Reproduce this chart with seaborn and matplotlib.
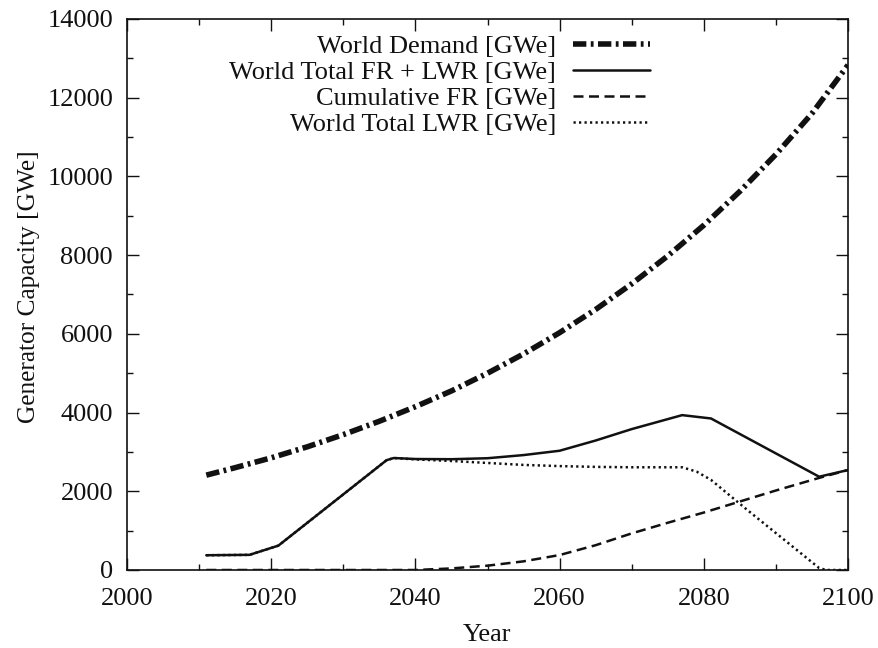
import matplotlib
matplotlib.use("Agg")
import matplotlib.pyplot as plt
import seaborn as sns
import pandas as pd
from matplotlib.ticker import MultipleLocator

# World demand for generating capacity [GWe]
demand_years = [2011, 2015, 2020, 2025, 2030, 2035, 2040, 2045, 2050, 2055,
                2060, 2065, 2070, 2075, 2080, 2085, 2090, 2095, 2100]
demand_gwe = [2410, 2600, 2850, 3130, 3440, 3780, 4150, 4550, 5000, 5490,
              6030, 6620, 7270, 7980, 8760, 9620, 10560, 11600, 12830]

# Installed fast reactor + light water reactor capacity [GWe]
total_years = [2011, 2017, 2021, 2036, 2037, 2040, 2045, 2050, 2055, 2060,
               2065, 2070, 2077, 2081, 2096, 2100]
total_gwe = [375, 385, 620, 2790, 2845, 2820, 2815, 2840, 2920, 3030,
             3290, 3580, 3935, 3850, 2370, 2540]

# Cumulative fast reactor capacity [GWe]
fr_years = [2011, 2040, 2045, 2050, 2055, 2060, 2065, 2070, 2075, 2080,
            2085, 2090, 2096, 2100]
fr_gwe = [0, 0, 40, 110, 220, 380, 630, 930, 1200, 1460, 1740, 2020, 2340, 2540]

# Light water reactor capacity [GWe]
lwr_years = [2011, 2017, 2021, 2036, 2037, 2040, 2045, 2050, 2055, 2060,
             2065, 2070, 2077, 2079, 2081, 2086, 2091, 2096, 2097, 2100]
lwr_gwe = [375, 385, 620, 2790, 2845, 2810, 2770, 2720, 2670, 2640,
           2620, 2610, 2610, 2500, 2290, 1530, 790, 50, 0, 0]

series_labels = ["World Demand [GWe]", "World Total FR + LWR [GWe]",
                 "Cumulative FR [GWe]", "World Total LWR [GWe]"]

sns.set_theme(style="ticks")
plt.rcParams["font.family"] = ["Liberation Serif", "DejaVu Serif"]

FS = 19
INK = "#111111"

fig = plt.figure(figsize=(8.79, 6.48), dpi=100)
ax = fig.add_axes([127 / 879, 1 - 570 / 648, 721 / 879, 551 / 648])

styles = [
    (demand_years, demand_gwe, 4.0, (0, (2.4, 0.8, 0.5, 0.8))),
    (total_years, total_gwe, 1.8, "solid"),
    (fr_years, fr_gwe, 1.8, (0, (4.0, 2.2))),
    (lwr_years, lwr_gwe, 1.8, (0, (0.9, 1.3))),
]
for (yrs, vals, lw, ls), lab in zip(styles, series_labels):
    df = pd.DataFrame({"Year": yrs, "GWe": vals})
    sns.lineplot(data=df, x="Year", y="GWe", ax=ax, color=INK,
                 linewidth=lw, linestyle=ls, label=lab, sort=True,
                 dash_capstyle="butt", solid_joinstyle="miter")

ax.set_xlim(2000, 2100)
ax.set_ylim(0, 14000)
ax.xaxis.set_major_locator(MultipleLocator(20))
ax.xaxis.set_minor_locator(MultipleLocator(10))
ax.yaxis.set_major_locator(MultipleLocator(2000))
ax.yaxis.set_minor_locator(MultipleLocator(1000))
ax.tick_params(which="both", direction="in", top=True, right=True,
               colors=INK, labelsize=FS)
ax.tick_params(which="major", length=8.5, width=1.0)
ax.tick_params(which="minor", length=4.5, width=1.0)
ax.tick_params(axis="x", which="major", pad=13)
ax.tick_params(axis="y", which="major", pad=10)
for sp in ax.spines.values():
    sp.set_linewidth(1.2)
    sp.set_color(INK)

ax.set_xlabel("Year", fontsize=FS, labelpad=10, color=INK)
ax.set_ylabel("Generator Capacity [GWe]", fontsize=18.3, labelpad=5,
              color=INK)
ax.yaxis.label.set_y(0.514)

leg = ax.legend(loc="upper right", bbox_to_anchor=(0.725, 0.972),
                frameon=False, markerfirst=False, fontsize=FS,
                handlelength=2.9, handletextpad=0.65, labelspacing=0.1,
                borderaxespad=0, borderpad=0)
for t in leg.get_texts():
    t.set_ha("right")
    t.set_color(INK)
leg._legend_box.align = "right"
for vp in leg._legend_handle_box.get_children():
    vp.align = "right"

fig.savefig("out.png", dpi=100)
